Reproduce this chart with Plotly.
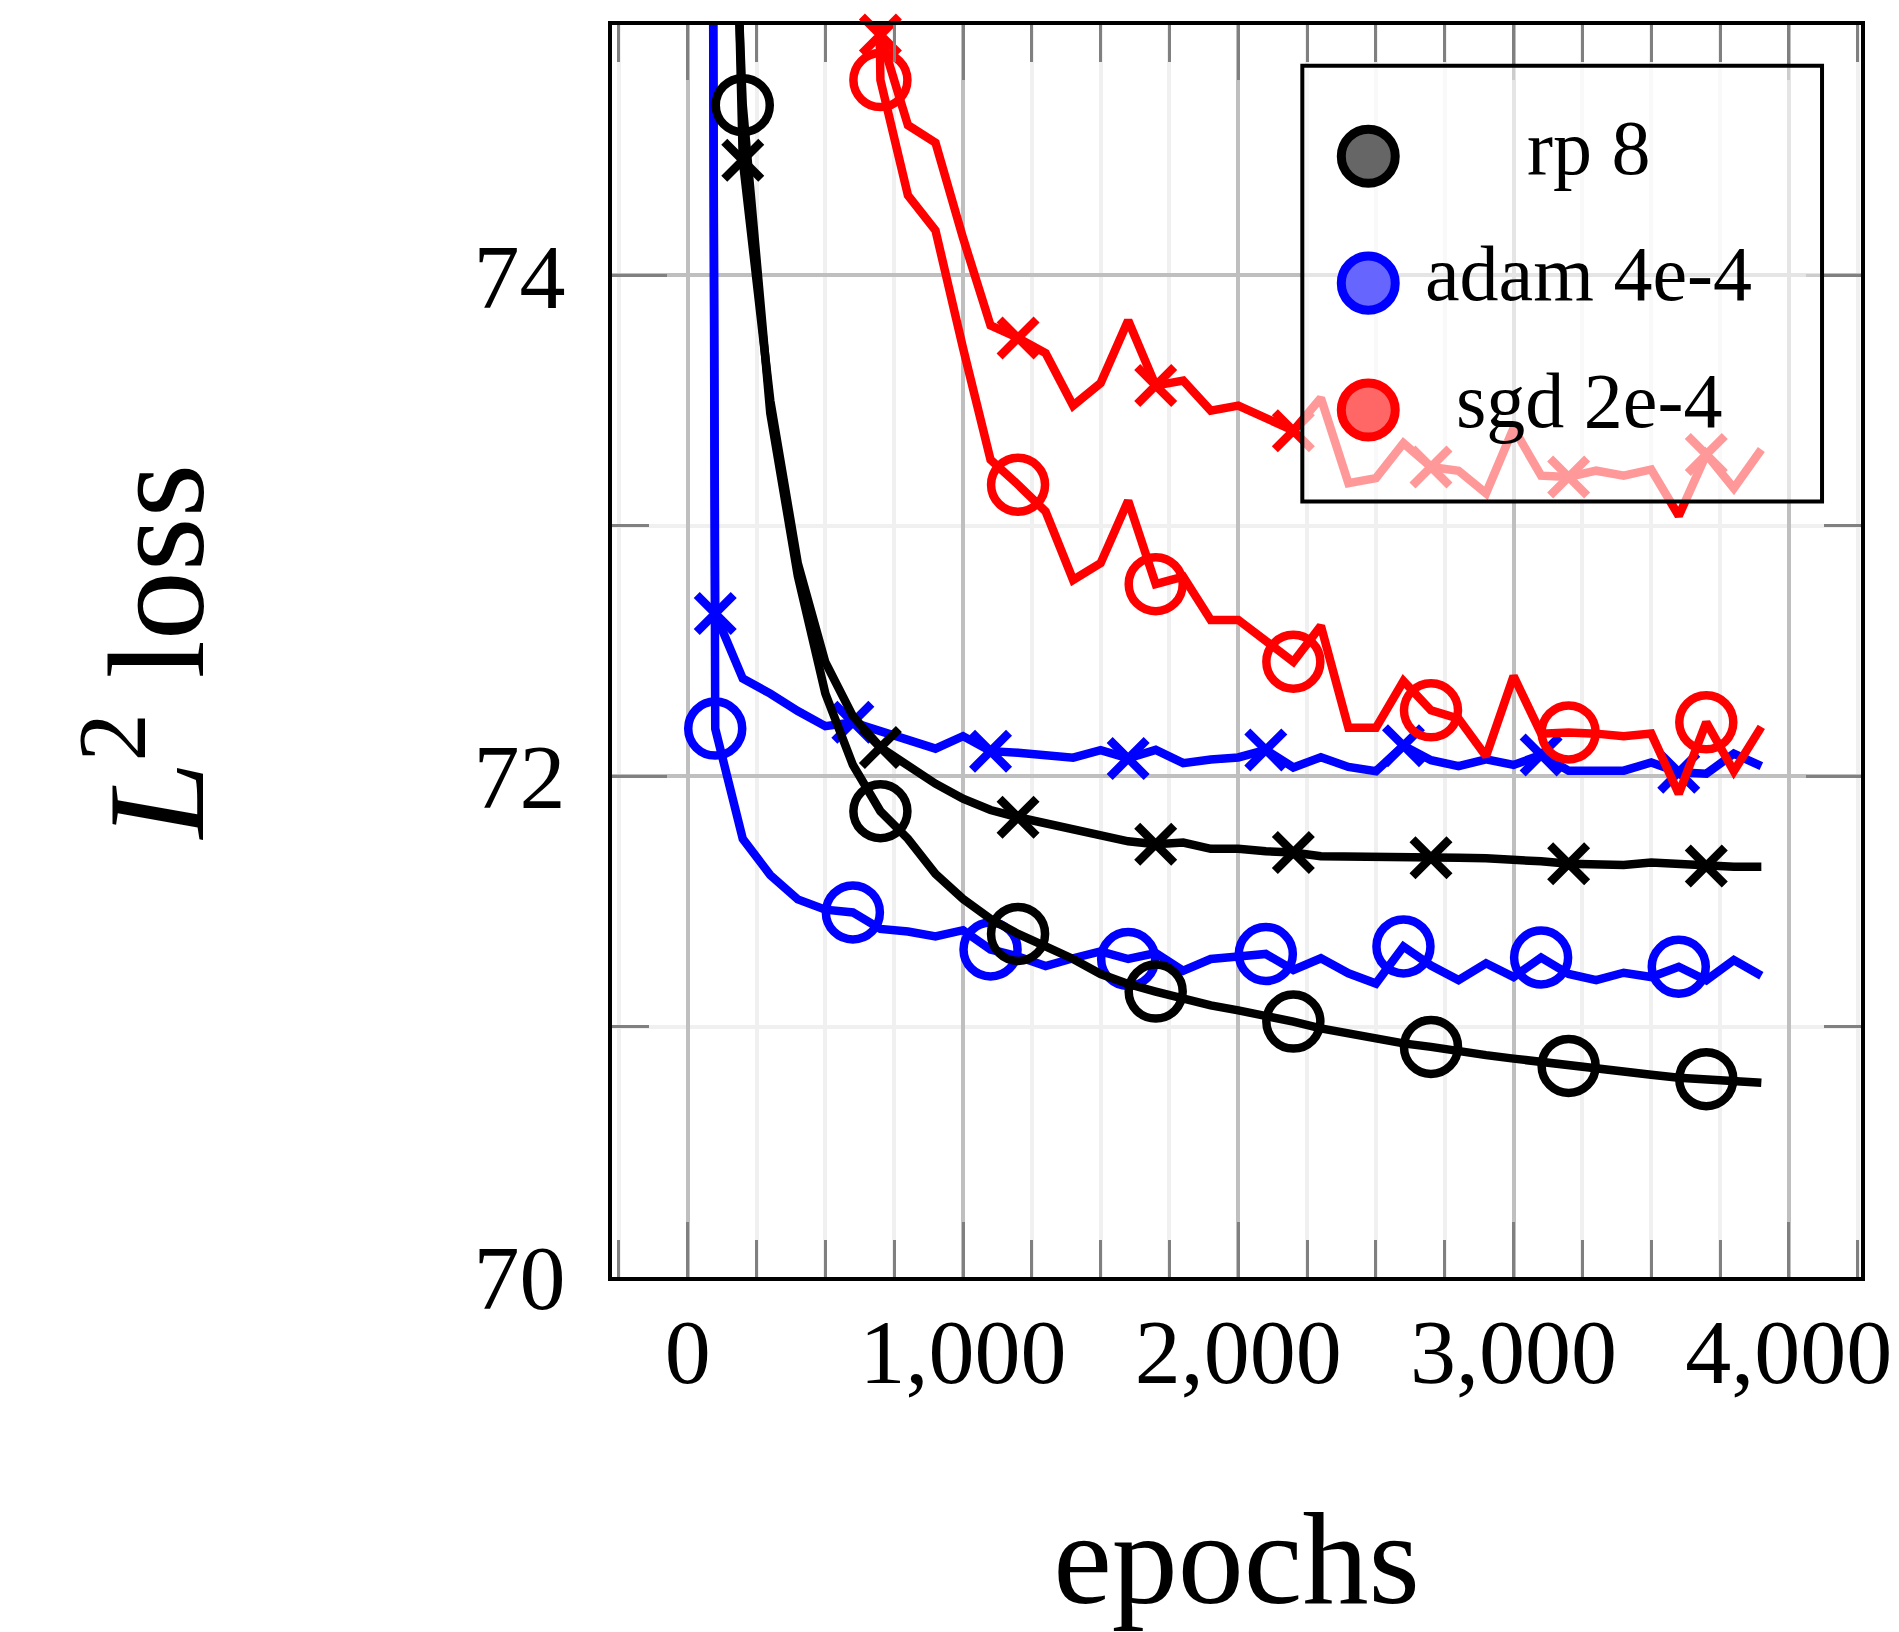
import plotly.graph_objects as go

# ---------------- data ----------------
rp8_epochs = list(range(100, 4000, 100))
rp8_circ = [77.4, 74.68, 73.45, 72.80, 72.33, 72.045, 71.86, 71.75, 71.61, 71.51,
            71.43, 71.37, 71.32, 71.27, 71.21, 71.17, 71.14, 71.11, 71.085, 71.065,
            71.045, 71.02, 70.993, 70.972, 70.953, 70.933, 70.919, 70.90, 70.886, 70.872,
            70.858, 70.843, 70.829, 70.819, 70.808, 70.796, 70.79, 70.782, 70.776]
rp8_cross = [79.0, 74.46, 73.50, 72.85, 72.455, 72.24, 72.115, 72.04, 71.97, 71.91,
             71.865, 71.836, 71.814, 71.79, 71.765, 71.74, 71.728, 71.735, 71.71, 71.71,
             71.70, 71.695, 71.68, 71.68, 71.68, 71.682, 71.674, 71.674, 71.672, 71.67,
             71.66, 71.65, 71.645, 71.645, 71.655, 71.648, 71.641, 71.638, 71.638]

adam_epochs = list(range(0, 4000, 100))
adam_circ = [110.0, 72.19, 71.75, 71.605, 71.508, 71.467, 71.456, 71.39, 71.38, 71.36,
             71.385, 71.308, 71.28, 71.242, 71.273, 71.30, 71.27, 71.294, 71.223, 71.27,
             71.28, 71.29, 71.226, 71.273, 71.213, 71.172, 71.32, 71.244, 71.186, 71.253,
             71.198, 71.276, 71.21, 71.186, 71.215, 71.198, 71.239, 71.185, 71.266, 71.203]
adam_cross = [105.0, 72.65, 72.39, 72.33, 72.26, 72.20, 72.215, 72.18, 72.145, 72.11,
              72.16, 72.10, 72.094, 72.088, 72.074, 72.104, 72.071, 72.105, 72.052, 72.067,
              72.075, 72.105, 72.035, 72.076, 72.037, 72.02, 72.122, 72.064, 72.04, 72.067,
              72.045, 72.085, 72.022, 72.022, 72.022, 72.055, 72.016, 72.01, 72.09, 72.04]

sgd_epochs = list(range(600, 4000, 100))
sgd_circ = [82.0, 74.78, 74.32, 74.18, 73.71, 73.264, 73.164, 73.057, 72.784, 72.851,
            73.10, 72.767, 72.797, 72.624, 72.624, 72.537, 72.457, 72.60, 72.193, 72.193,
            72.38, 72.263, 72.23, 72.08, 72.40, 72.17, 72.175, 72.17, 72.16, 72.17,
            71.93, 72.215, 72.02, 72.197]
sgd_cross = [85.0, 74.96, 74.60, 74.53, 74.15, 73.80, 73.75, 73.69, 73.48, 73.57,
             73.82, 73.56, 73.58, 73.46, 73.48, 73.43, 73.38, 73.51, 73.17, 73.19,
             73.33, 73.235, 73.22, 73.13, 73.39, 73.20, 73.195, 73.22, 73.20, 73.225,
             73.04, 73.285, 73.15, 73.305]

series_names = ["rp 8", "adam 4e-4", "sgd 2e-4"]
series_colors = ["#000000", "#0000ff", "#ff0000"]
legend_fill = ["#666666", "#6666ff", "#ff6666"]

x_tickvals = [0, 1000, 2000, 3000, 4000]
x_ticktext = ["0", "1,000", "2,000", "3,000", "4,000"]
y_tickvals = [70, 72, 74]
y_ticktext = ["70", "72", "74"]

# ---------------- figure ----------------
FONT = "Liberation Serif"
LW = 8.5
fig = go.Figure()

def add_series(xs, ys_circ, ys_cross, color):
    for ys, sym, size in ((ys_circ, "circle-open", 54), (ys_cross, "x-thin-open", 37)):
        fig.add_trace(go.Scatter(x=xs, y=ys, mode="lines",
                                 line=dict(color=color, width=LW),
                                 hoverinfo="skip", showlegend=False))
        fig.add_trace(go.Scatter(x=xs[1::5], y=ys[1::5], mode="markers",
                                 marker=dict(symbol=sym, size=size, color=color,
                                             line=dict(color=color, width=LW)),
                                 cliponaxis=False, hoverinfo="skip", showlegend=False))

add_series(adam_epochs, adam_circ, adam_cross, series_colors[1])
add_series(rp8_epochs, rp8_circ, rp8_cross, series_colors[0])
add_series(sgd_epochs, sgd_circ, sgd_cross, series_colors[2])

tick_grey = "#808080"
common_axis = dict(showline=True, linecolor="black", linewidth=4, mirror="ticks",
                   ticks="inside", ticklen=55, tickwidth=3, tickcolor=tick_grey,
                   showgrid=True, gridcolor="#bfbfbf", gridwidth=4, zeroline=False,
                   tickfont=dict(family=FONT, size=92, color="black"))

fig.update_xaxes(range=[-275, 4262], tickmode="array", tickvals=x_tickvals, ticktext=x_ticktext,
                 minor=dict(dtick=250, tick0=0, ticks="inside", ticklen=37, tickwidth=3,
                            tickcolor=tick_grey, showgrid=True, gridcolor="#f0f0f0", gridwidth=4),
                 ticklabelstandoff=-8,
                 title=dict(text="epochs", font=dict(family=FONT, size=132, color="black"), standoff=135),
                 automargin=False, **common_axis)
fig.update_yaxes(range=[70, 75], tickmode="array", tickvals=y_tickvals, ticktext=y_ticktext,
                 minor=dict(dtick=1, tick0=70, ticks="inside", ticklen=37, tickwidth=3,
                            tickcolor=tick_grey, showgrid=True, gridcolor="#f0f0f0", gridwidth=4),
                 ticklabelstandoff=24,
                 title=dict(text="<i>L</i><sup>2</sup> loss", font=dict(family=FONT, size=138, color="black"), standoff=224),
                 automargin=False, **common_axis)

# ---------------- legend (drawn manually) ----------------
box = dict(x0=0.5527, x1=0.9688, y0=0.6195, y1=0.9674)
shapes = [dict(type="rect", xref="paper", yref="paper", layer="above",
               fillcolor="rgba(255,255,255,0.6)", line=dict(color="black", width=4), **box)]
annotations = []
sym_x = 0.6055
sym_y = [0.8952, 0.7938, 0.6925]
txt_y = [0.9025, 0.8013, 0.7004]
rx, ry = 0.0216, 0.0216
for name, col, fill, sy, ty in zip(series_names, series_colors, legend_fill, sym_y, txt_y):
    shapes.append(dict(type="circle", xref="paper", yref="paper", layer="above",
                       x0=sym_x - rx, x1=sym_x + rx, y0=sy - ry, y1=sy + ry,
                       fillcolor=fill, line=dict(color=col, width=9)))
    annotations.append(dict(text=name, xref="paper", yref="paper", x=0.7821, y=ty,
                            xanchor="center", yanchor="middle", showarrow=False,
                            font=dict(family=FONT, size=78, color="black")))

fig.update_layout(width=1899, height=1632, template="none",
                  margin=dict(l=612, r=38, t=25, b=355, pad=0),
                  plot_bgcolor="white", paper_bgcolor="white", showlegend=False,
                  font=dict(family=FONT, color="black"),
                  shapes=shapes, annotations=annotations)

fig.write_html("out.html", config={"displayModeBar": False},
               post_script="document.body.style.margin='0px';")
